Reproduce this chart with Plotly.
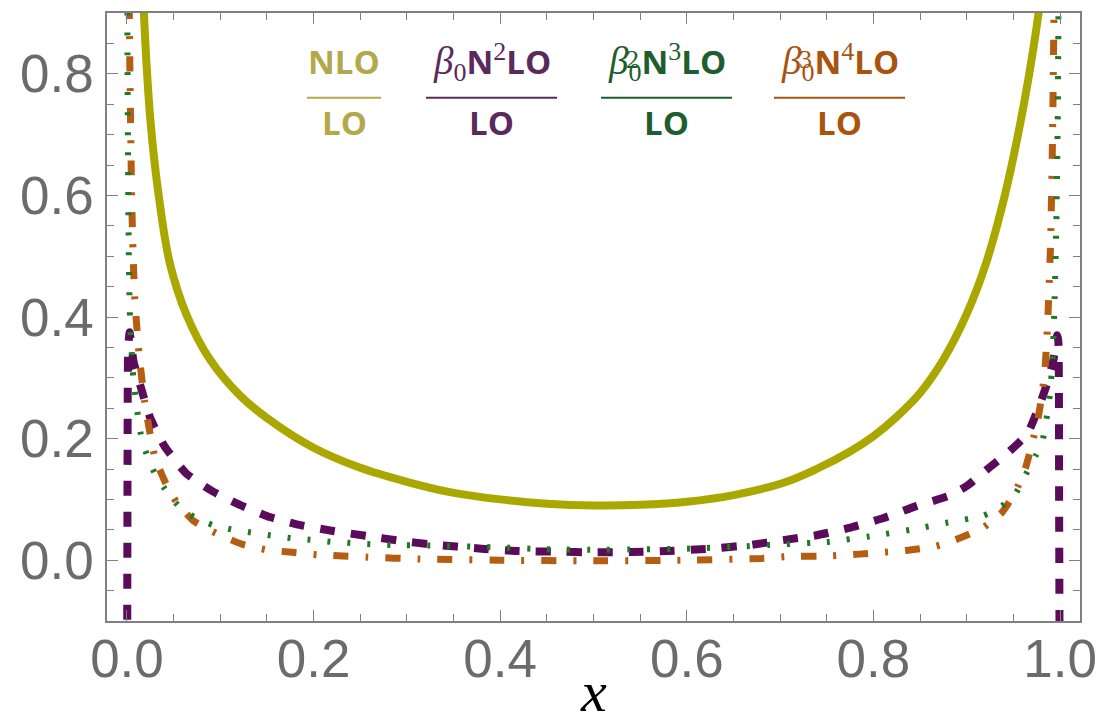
import plotly.graph_objects as go

# ---------------- data ----------------
x_nlo = [0.0160, 0.0180, 0.0250, 0.0340, 0.0460, 0.0640, 0.0890, 0.1210, 0.1500, 0.2000,
         0.2500, 0.3000, 0.3460, 0.4000, 0.4500, 0.5000, 0.5500, 0.6000, 0.6500, 0.7030,
         0.7390, 0.7740, 0.8000, 0.8250, 0.8500, 0.8750, 0.9000, 0.9200, 0.9400, 0.9550,
         0.9670, 0.9770, 0.9800, 0.9830]
y_nlo = [1.000, 0.905, 0.726, 0.600, 0.488, 0.403, 0.330, 0.271, 0.234, 0.185,
         0.152, 0.129, 0.112, 0.100, 0.093, 0.090, 0.091, 0.096, 0.107, 0.127,
         0.150, 0.178, 0.204, 0.236, 0.275, 0.330, 0.405, 0.485, 0.595, 0.700,
         0.800, 0.900, 0.940, 1.000]

x_b0n2 = [0.0002, 0.0006, 0.0012, 0.0028, 0.0070, 0.0157, 0.0250, 0.0400, 0.0640, 0.0910,
          0.1210, 0.1530, 0.1850, 0.2210, 0.2570, 0.2920, 0.3260, 0.3800, 0.4200, 0.4600,
          0.5000, 0.5400, 0.5800, 0.6250, 0.6680, 0.7030, 0.7390, 0.7740, 0.8100, 0.8460,
          0.8810, 0.9000, 0.9240, 0.9450, 0.9650, 0.9770, 0.9860, 0.9930, 0.9970, 0.9982,
          0.9990, 0.9996]
y_b0n2 = [-0.200, 0.150, 0.340, 0.375, 0.327, 0.280, 0.234, 0.188, 0.142, 0.114,
          0.091, 0.071, 0.058, 0.048, 0.040, 0.032, 0.026, 0.019, 0.015, 0.014,
          0.013, 0.0135, 0.015, 0.019, 0.025, 0.033, 0.041, 0.053, 0.069, 0.089,
          0.106, 0.122, 0.152, 0.178, 0.208, 0.251, 0.290, 0.330, 0.370, 0.360,
          0.100, -0.200]

x_b02n3 = [0.0003, 0.0006, 0.0012, 0.0020, 0.0032, 0.0068, 0.0120, 0.0157, 0.0210, 0.0300,
           0.0440, 0.0580, 0.0730, 0.0920, 0.1140, 0.1350, 0.1570, 0.1780, 0.2000, 0.2210,
           0.2420, 0.2640, 0.2850, 0.3280, 0.4000, 0.4500, 0.5000, 0.5500, 0.6000, 0.6500,
           0.7000, 0.7500, 0.8000, 0.8400, 0.8800, 0.9170, 0.9350, 0.9520, 0.9670, 0.9740,
           0.9810, 0.9850, 0.9890, 0.9920, 0.9940, 0.9960, 0.9975, 0.9985]
y_b02n3 = [1.000, 0.820, 0.640, 0.500, 0.400, 0.300, 0.234, 0.200, 0.175, 0.142,
           0.110, 0.085, 0.070, 0.058, 0.050, 0.045, 0.040, 0.036, 0.033, 0.030,
           0.028, 0.026, 0.025, 0.024, 0.021, 0.018, 0.017, 0.018, 0.019, 0.022,
           0.026, 0.030, 0.040, 0.050, 0.062, 0.073, 0.086, 0.109, 0.152, 0.172,
           0.195, 0.228, 0.270, 0.330, 0.420, 0.550, 0.720, 0.950]

x_b03n4 = [0.0022, 0.0025, 0.0032, 0.0050, 0.0066, 0.0086, 0.0130, 0.0190, 0.0300, 0.0420,
           0.0530, 0.0710, 0.0960, 0.1240, 0.1500, 0.1770, 0.2040, 0.2580, 0.3140, 0.4000,
           0.5000, 0.6000, 0.6800, 0.7100, 0.7530, 0.7850, 0.8100, 0.8350, 0.8670, 0.8920,
           0.9170, 0.9380, 0.9520, 0.9630, 0.9700, 0.9770, 0.9810, 0.9840, 0.9870, 0.9900,
           0.9920, 0.9935, 0.9945]
y_b03n4 = [1.000, 0.900, 0.800, 0.600, 0.500, 0.424, 0.339, 0.260, 0.169, 0.125,
           0.096, 0.065, 0.044, 0.026, 0.017, 0.013, 0.009, 0.005, 0.002, 0.000,
           -0.001, 0.000, 0.003, 0.006, 0.007, 0.010, 0.013, 0.016, 0.023, 0.036,
           0.053, 0.079, 0.112, 0.152, 0.191, 0.238, 0.277, 0.317, 0.400, 0.528,
           0.700, 0.900, 1.000]

x_tickvals = [0.0, 0.2, 0.4, 0.6, 0.8, 1.0]
x_ticklabels = ["0.0", "0.2", "0.4", "0.6", "0.8", "1.0"]
y_tickvals = [0.0, 0.2, 0.4, 0.6, 0.8]
y_ticklabels = ["0.0", "0.2", "0.4", "0.6", "0.8"]

# ---------------- geometry (page body has an 8px margin) ----------------
OFF = 8
W, H = 1096, 719
L, R, T, B = 99, 24, 3, 106
PW, PH = W - L - R, H - T - B


def xp(page_x):
    return (page_x - OFF - L) / PW


def yp(page_y):
    return (H - B - (page_y - OFF)) / PH


C_NLO, C_P, C_G, C_O = "#aaa800", "#5a0c5a", "#1f7a23", "#b55d10"
T_NLO, T_P, T_G, T_O = "#b4a84c", "#5b2a5c", "#1e5e2e", "#a8540f"
AX = "#808080"

fig = go.Figure()
fig.add_trace(go.Scatter(x=x_nlo, y=y_nlo, mode="lines",
                         line=dict(color=C_NLO, width=8, shape="spline", smoothing=1.0)))
fig.add_trace(go.Scatter(x=x_b0n2, y=y_b0n2, mode="lines",
                         line=dict(color=C_P, width=8, dash="15px,16px", shape="spline", smoothing=0.5)))
fig.add_trace(go.Scatter(x=x_b03n4, y=y_b03n4, mode="lines",
                         line=dict(color=C_O, width=7, dash="15px,17px,3px,17px", shape="spline", smoothing=0.5)))
fig.add_trace(go.Scatter(x=x_b02n3, y=y_b02n3, mode="lines",
                         line=dict(color=C_G, width=6, dash="3px,17px", shape="spline", smoothing=0.5)))

axis_common = dict(
    showline=True, linecolor=AX, linewidth=1.5, mirror="allticks",
    ticks="inside", ticklen=11, tickwidth=1.3, tickcolor=AX,
    showgrid=False, zeroline=False,
    tickfont=dict(family="Liberation Sans, Arial", size=53, color="#6b6b6b"),
    minor=dict(ticks="inside", ticklen=7, tickwidth=1.1, tickcolor=AX, showgrid=False),
)

fig.update_xaxes(range=[-0.0214, 1.0214], tickmode="array", tickvals=x_tickvals,
                 ticktext=x_ticklabels, ticklabelstandoff=-9, **axis_common)
fig.update_xaxes(minor=dict(dtick=0.05, tick0=0))
fig.update_yaxes(range=[-0.1, 0.9], tickmode="array", tickvals=y_tickvals,
                 ticktext=y_ticklabels, ticklabelstandoff=1, **axis_common)
fig.update_yaxes(minor=dict(dtick=0.05, tick0=0))

# ---------------- legend fractions ----------------
FS = 33
SER = "font-family:Liberation Serif;font-weight:normal;font-style:normal"
SERI = "font-family:Liberation Serif;font-weight:normal;font-style:italic;font-size:39px"
SUB = SER + ";font-size:26px"


def beta():
    return f'<span style="{SERI}">β</span><sub><span style="{SUB}">0</span></sub>'


def sup(d):
    return f'<sup><span style="{SUB}">{d}</span></sup>'


numerators = [
    ("NLO", T_NLO, 344, 37, None),
    (beta() + "N" + sup("2") + "LO", T_P, 491.5, 65.5, None),
    (beta() + "N" + sup("3") + "LO", T_G, 666.5, 65.5, "2"),
    (beta() + "N" + sup("4") + "LO", T_O, 839.5, 65.5, "3"),
]

for txt, col, cx, hw, stack in numerators:
    fig.add_annotation(x=xp(cx), y=yp(60), xref="paper", yref="paper", text=txt,
                       showarrow=False, xanchor="center", yanchor="middle",
                       font=dict(family="Open Sans", size=FS, color=col, weight="bold"))
    fig.add_annotation(x=xp(cx), y=yp(121), xref="paper", yref="paper", text="LO",
                       showarrow=False, xanchor="center", yanchor="middle",
                       font=dict(family="Open Sans", size=FS, color=col, weight="bold"))
    fig.add_shape(type="line", xref="paper", yref="paper",
                  x0=xp(cx - hw), x1=xp(cx + hw), y0=yp(96), y1=yp(96),
                  line=dict(color=col, width=2))
    if stack:
        fig.add_annotation(x=xp(cx - 34), y=yp(58), xref="paper", yref="paper",
                           text=stack, showarrow=False, xanchor="center", yanchor="middle",
                           font=dict(family="Liberation Serif", size=26, color=col))

# x-axis title
fig.add_annotation(x=0.5, y=yp(726), xref="paper", yref="paper", text="<i>x</i>",
                   showarrow=False, xanchor="center", yanchor="bottom",
                   font=dict(family="Liberation Serif", size=58, color="#000000"))

fig.update_layout(width=W, height=H, margin=dict(l=L, r=R, t=T, b=B),
                  plot_bgcolor="white", paper_bgcolor="white", showlegend=False)

fig.write_html("out.html")
